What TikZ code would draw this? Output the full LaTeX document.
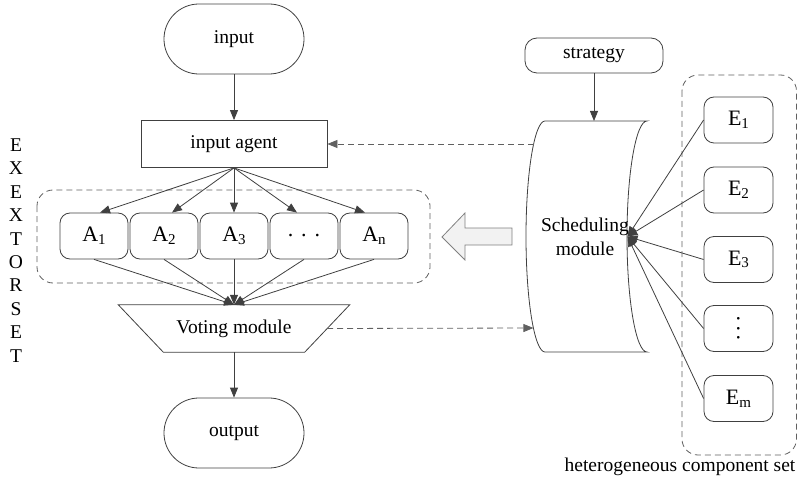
\documentclass[tikz,border=0pt]{standalone}
\usepackage{fontspec}
\setmainfont{Liberation Serif}
\usetikzlibrary{arrows.meta,calc}
\definecolor{ln}{HTML}{404040}
\definecolor{dsh}{HTML}{606060}
\definecolor{arrfill}{HTML}{F2F2F2}
\definecolor{arredge}{HTML}{808080}
\newcommand{\lbl}[2]{#1\raisebox{-0.12em}{\fontsize{15}{15}\selectfont #2}}
\begin{document}
\begin{tikzpicture}[x=1pt,y=-1pt,
  every node/.style={font=\fontsize{19.5}{23.4}\selectfont, text=black},
  line/.style={draw=ln, line width=0.8pt},
  arr/.style={line, -{Triangle[length=10pt,width=8pt]}},
  dsharr/.style={draw=dsh, line width=0.8pt, dash pattern=on 6pt off 4pt, -{Triangle[length=10pt,width=8pt]}},
  grp/.style={draw=dsh, line width=0.8pt, dash pattern=on 6pt off 4pt, rounded corners=16pt},
  term/.style={line, rounded corners=34.9pt, minimum width=140pt, minimum height=70pt},
  abox/.style={line, rounded corners=10pt, minimum width=68pt, minimum height=46pt, font=\fontsize{22}{24}\selectfont},
  ebox/.style={line, rounded corners=10pt, minimum width=69pt, minimum height=46pt, font=\fontsize{22}{24}\selectfont},
]
\useasboundingbox (0,0) rectangle (798,484);

% groups (behind)
\draw[grp] (37,190) rectangle (430,283);
\draw[grp] (682,75) rectangle (796.5,455);

% left column
\node[term] (input) at (234,39) {input};
\node[line, minimum width=186pt, minimum height=47pt] (agent) at (234,144) {input agent};
\node[abox] (A1) at (94,236) {\lbl{A}{1}};
\node[abox] (A2) at (164,236) {\lbl{A}{2}};
\node[abox] (A3) at (234,236) {\lbl{A}{3}};
\node[abox] (Ad) at (304,236) {.\hspace{8pt}.\hspace{8pt}.};
\node[abox] (An) at (374,236) {\lbl{A}{n}};
\node[minimum width=231pt, minimum height=47pt, inner sep=0pt] (voting) at (234,328.5) {Voting module};
\draw[line] (voting.north west) -- (voting.north east) -- ($(voting.south east)+(-45,0)$) -- ($(voting.south west)+(45,0)$) -- cycle;
\node[term] (output) at (234,433) {output};

\node[align=center, inner sep=0pt] (vlabel) at (16,250.5) {E\\X\\E\\X\\T\\O\\R\\S\\E\\T};

% scheduling module
\draw[line, fill=white] (545,121) -- (647,121)
  .. controls (636,121) and (627,172.7) .. (627,236.5)
  .. controls (627,300.3) and (636,352) .. (647,352)
  -- (545,352)
  .. controls (534.5,352) and (526,300.3) .. (526,236.5)
  .. controls (526,172.7) and (534.5,121) .. cycle;
\node[align=center, inner sep=0pt] (sched) at (585,237) {Scheduling\\module};
\coordinate (schtop) at (594,121);
\coordinate (schR) at (627.5,236.5);
\coordinate (schL1) at (533.6,144);
\coordinate (schL2) at (533.4,328);

\node[line, rounded corners=12pt, minimum width=138pt, minimum height=35pt] (strategy) at (594,55.5) {strategy};

% big hollow arrow
\draw[draw=arredge, fill=arrfill, line width=0.8pt] (442,237) -- (465,213) -- (465,228) -- (512,228) -- (512,245) -- (465,245) -- (465,260) -- cycle;

% E boxes
\node[ebox] (E1) at (738.5,120) {\lbl{E}{1}};
\node[ebox] (E2) at (738.5,190) {\lbl{E}{2}};
\node[ebox] (E3) at (738.5,259.5) {\lbl{E}{3}};
\node[ebox] (Ed) at (738.5,328.5) {\rotatebox{90}{.\hspace{4pt}.\hspace{4pt}.}};
\node[ebox] (Em) at (738.5,398.5) {\lbl{E}{m}};

\node (hcs) at (680,467) {heterogeneous component set};

% connectors
\draw[arr] (input.south) -- (agent.north);
\draw[arr] (agent.south) -- ($(A1.north)+(6,0)$);
\draw[arr] (agent.south) -- ($(A2.north)+(8,0)$);
\draw[arr] (agent.south) -- (A3.north);
\draw[arr] (agent.south) -- ($(Ad.north)+(-7,0)$);
\draw[arr] (agent.south) -- ($(An.north)+(-9,0)$);
\foreach \a in {A1,A2,A3,Ad,An} {
  \draw[arr] (\a.south) -- (voting.north);
}
\draw[arr] (voting.south) -- (output.north);
\draw[arr] (strategy.south) -- (schtop);
\draw[dsharr] (schL1) -- (agent.east);
\draw[dsharr] ($(voting.east)+(-22.5,0)$) -- (schL2);
\foreach \e in {E1,E2,E3,Ed,Em} {
  \draw[arr] (\e.west) -- (schR);
}
\end{tikzpicture}
\end{document}
